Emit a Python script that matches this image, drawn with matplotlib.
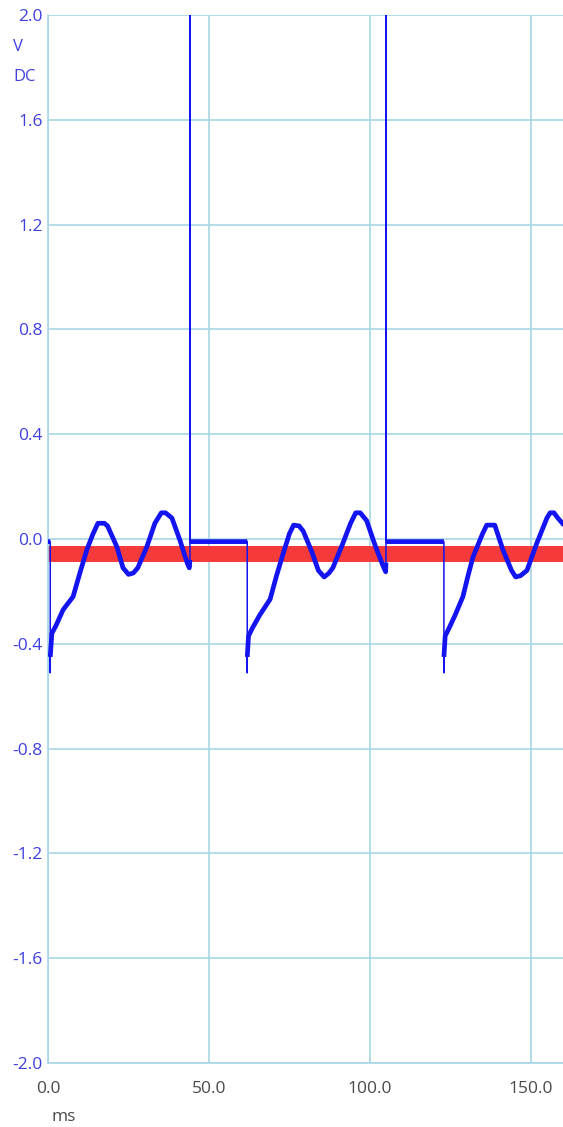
import matplotlib
matplotlib.use("Agg")
import matplotlib.pyplot as plt
import numpy as np

# ---- data ----
time_ms = [
    0.0, 0.7, 0.7, 0.7, 1.2, 2.5, 4.7, 7.8, 9.9, 12.1, 14.0, 15.5, 17.5, 18.5,
    21.4, 23.3, 25.0, 26.5, 27.9, 30.7, 33.2, 35.2, 36.5, 38.5, 41.0, 43.2,
    43.9, 44.1, 44.1, 44.1, 61.9,
    61.9, 61.9, 62.3, 63.5, 65.8, 69.0, 71.0, 73.2, 75.0, 76.3, 78.0, 79.3,
    82.0, 84.0, 85.8, 87.3, 88.5, 91.5, 94.0, 95.6, 97.0, 99.0, 101.5, 104.0,
    104.9, 105.0, 105.0, 105.0, 123.0,
    123.0, 123.0, 123.4, 124.6, 126.5, 128.9, 130.5, 132.0, 135.0, 136.3,
    138.8, 141.3, 144.0, 145.3, 146.8, 148.8, 151.9, 155.0, 156.0, 157.2,
    158.4, 160.5,
]
volts = [
    -0.01, -0.01, -0.51, -0.45, -0.36, -0.33, -0.27, -0.22, -0.13, -0.04, 0.02,
    0.06, 0.06, 0.05, -0.03, -0.11, -0.135, -0.13, -0.11, -0.03, 0.06, 0.10,
    0.10, 0.08, -0.005, -0.09, -0.11, -0.08, 2.5, -0.01, -0.01,
    -0.51, -0.45, -0.37, -0.34, -0.29, -0.23, -0.14, -0.05, 0.02, 0.053, 0.05,
    0.03, -0.05, -0.12, -0.145, -0.13, -0.11, -0.02, 0.06, 0.10, 0.10, 0.07,
    -0.02, -0.10, -0.125, -0.09, 2.5, -0.01, -0.01,
    -0.51, -0.45, -0.37, -0.34, -0.29, -0.22, -0.14, -0.07, 0.02, 0.053,
    0.053, -0.04, -0.12, -0.145, -0.14, -0.12, -0.015, 0.08, 0.10, 0.10,
    0.08, 0.05,
]
reference_level = -0.057
x_ticks = [0, 50, 100, 150]
x_tick_labels = ["0.0", "50.0", "100.0", "150.0"]
y_ticks = [2.0, 1.6, 1.2, 0.8, 0.4, 0.0, -0.4, -0.8, -1.2, -1.6, -2.0]
y_tick_labels = ["2.0", "1.6", "1.2", "0.8", "0.4", "0.0", "-0.4", "-0.8",
                 "-1.2", "-1.6", "-2.0"]

# ---- style ----
FONT = ["Open Sans", "DejaVu Sans"]
GRID = "#a8d6e6"
TRACE = "#1414f0"
YCOL = "#4040e0"
XCOL = "#4a4a4a"
W, H = 563, 1127
fig = plt.figure(figsize=(W / 100, H / 100), dpi=100)
ax = fig.add_axes([48 / W, 1 - 1063 / H, (W - 48) / W, (1063 - 15) / H])

ax.set_xlim(0, 160)
ax.set_ylim(-2.0, 2.0)

# red reference band
ax.axhline(reference_level, color="#f43a3a", lw=11.5, zorder=2,
           solid_capstyle="butt")

t = np.array(time_ms, dtype=float)
v = np.array(volts, dtype=float)
# thin trace including vertical transitions
ax.plot(t, v, color=TRACE, lw=1.1, zorder=3, clip_on=True)
# thick trace (noisy sampled look) broken at vertical transitions
tt, vv = [t[0]], [v[0]]
for i in range(1, len(t)):
    if t[i] == t[i - 1]:
        tt.append(np.nan); vv.append(np.nan)
    tt.append(t[i]); vv.append(v[i])
ax.plot(tt, vv, color=TRACE, lw=3.4, zorder=4, solid_joinstyle="round",
        solid_capstyle="butt")

ax.set_xticks(x_ticks)
ax.set_xticklabels(x_tick_labels)
ax.set_yticks(y_ticks)
ax.set_yticklabels(y_tick_labels)
ax.grid(True, color=GRID, lw=1.2)
ax.set_axisbelow(True)
ax.tick_params(length=0)
ax.tick_params(axis="y", pad=4, labelcolor=YCOL, labelsize=12.5)
ax.tick_params(axis="x", pad=13, labelcolor=XCOL, labelsize=12.5)
for lab in ax.get_xticklabels() + ax.get_yticklabels():
    lab.set_family(FONT)
for side in ["top", "right"]:
    ax.spines[side].set_visible(False)
for side in ["left", "bottom"]:
    ax.spines[side].set_color(GRID)
    ax.spines[side].set_linewidth(1.2)

fig.text(13 / W, 1 - 47 / H, "V", color=YCOL, fontsize=12,
         family=FONT, ha="left", va="center")
fig.text(13 / W, 1 - 77 / H, "DC", color=YCOL, fontsize=12,
         family=FONT, ha="left", va="center")
fig.text(64 / W, 1 - 1117 / H, "ms", color=XCOL, fontsize=12.5,
         family=FONT, ha="center", va="center")

fig.savefig("out.png", dpi=100)
